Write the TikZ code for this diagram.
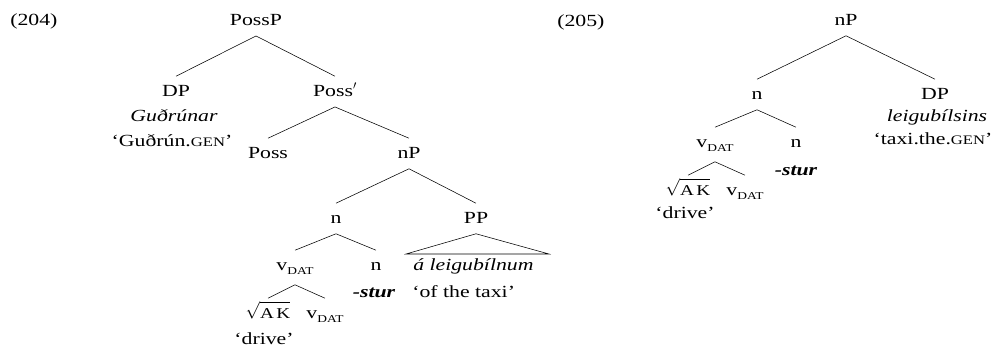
\documentclass[tikz,border=0pt]{standalone}
\usepackage{amsmath}
\usepackage{fontspec}
\setmainfont{Liberation Serif}[FakeStretch=1.28]
\newcommand{\gen}{{\fontsize{13}{13}\selectfont GEN}}
\newcommand{\vdat}{v\raisebox{-4pt}{\fontsize{10.5}{10.5}\selectfont DAT}}
\newcommand{\wurzel}{$\sqrt{\rule{0pt}{14pt}\text{\fontsize{15}{15}\selectfont A\,K}}$}

\begin{document}
\begin{tikzpicture}
     [
     x=1pt, y=-1pt, line width=0.55pt,
     kat/.style = {anchor=base, inner xsep=0pt, inner ysep=10.5pt, text height=9pt},
     glosse/.style = {anchor=base, inner sep=0pt}
     ]
     \fontsize{17}{20}\selectfont

     \useasboundingbox (0,0) rectangle (997,346);

     % (204)
     \path (10,25) node[glosse,anchor=base west] (nr204) {(204)};
     \path (256,25) node[kat] (possp) {PossP}
               (176,96) node[kat] (dp) {DP}
               (335,96) node[kat] (possbar) {Poss$'$}
               (268,158) node[kat] (poss) {Poss}
               (409,158) node[kat] (np) {nP}
               (336,223) node[kat] (n) {n}
               (476,223) node[kat] (pp) {PP}
               (295,270) node[kat] (vdat) {\vdat}
               (376,270) node[kat] (nsuf) {n}
               (268,318) node[kat] (ak) {\wurzel}
               (325,318) node[kat] (vdatb) {\vdat}
     ;
     \path (174,121) node[glosse] (dpform) {\itshape Guðrúnar}
               (172,146) node[glosse] (dpgloss) {‘Guðrún.\gen’}
               (374,297) node[glosse] (stur) {\bfseries\itshape -stur}
               (413,270) node[glosse,anchor=base west] (ppform) {\itshape á leigubílnum}
               (412,297) node[glosse,anchor=base west] (ppgloss) {‘of the taxi’}
               (264,344) node[glosse] (akgloss) {‘drive’}
     ;

     \draw (possp.south) edge (dp.north) edge (possbar.north)
     (possbar.south) edge (poss.north) edge (np.north)
     (np.south) edge (n.north) edge (pp.north)
     (n.south) edge (vdat.north) edge (nsuf.north)
     (vdat.south) edge (ak.north) edge (vdatb.north);

     \coordinate (ppl) at (406,254);
     \coordinate (ppr) at (549,254);
     \draw (pp.south) -- (ppr) -- (ppl) -- cycle;

     % (205)
     \path (557,26) node[glosse,anchor=base west] (nr205) {(205)};
     \path (846,25) node[kat] (np2) {nP}
               (757,99) node[kat] (n2) {n}
               (935,99) node[kat] (dp2) {DP}
               (715,147) node[kat] (vdat2) {\vdat}
               (796,147) node[kat] (nsuf2) {n}
               (688,195) node[kat] (ak2) {\wurzel}
               (745,195) node[kat] (vdatb2) {\vdat}
     ;
     \path (937,121) node[glosse] (dpform2) {\itshape leigubílsins}
               (933,144) node[glosse] (dpgloss2) {‘taxi.the.\gen’}
               (796,175) node[glosse] (stur2) {\bfseries\itshape -stur}
               (685,218) node[glosse] (akgloss2) {‘drive’}
     ;

     \draw (np2.south) edge (n2.north) edge (dp2.north)
     (n2.south) edge (vdat2.north) edge (nsuf2.north)
     (vdat2.south) edge (ak2.north) edge (vdatb2.north);
  \end{tikzpicture}
\end{document}
